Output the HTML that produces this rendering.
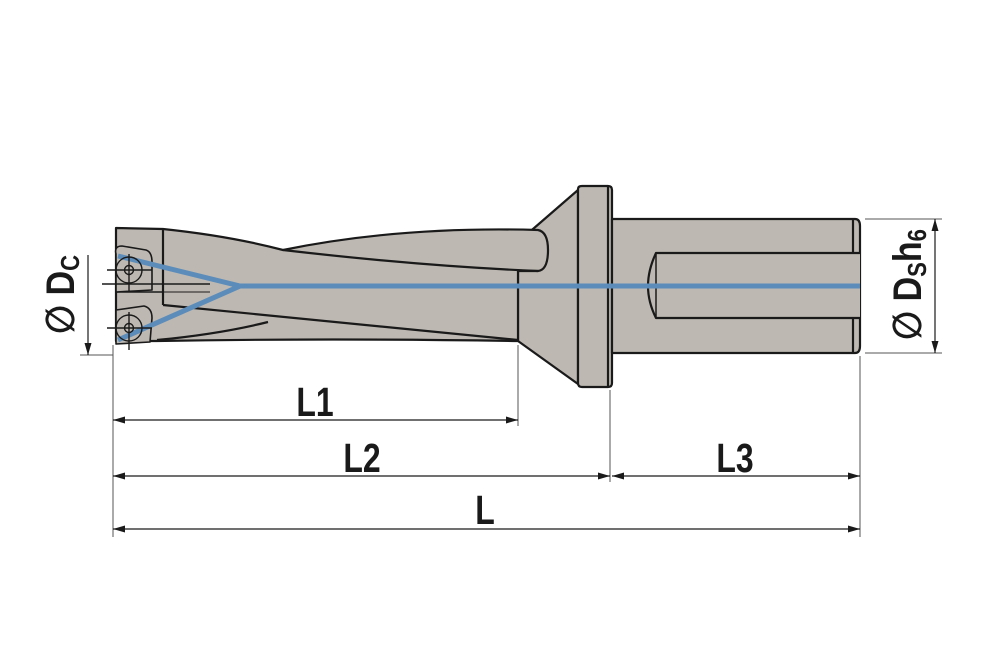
<!DOCTYPE html>
<html><head><meta charset="utf-8"><style>
html,body{margin:0;padding:0;background:#fff;}
svg{display:block}
text{font-family:"Liberation Sans",sans-serif;font-weight:bold;fill:#1a1a1a}
</style></head><body>
<svg width="1000" height="665" viewBox="0 0 1000 665" xmlns="http://www.w3.org/2000/svg">
<g stroke="#1a1a1a" stroke-width="2.2" fill="#bdb8b2" stroke-linejoin="round">
<path d="M518,242 L578,190 L578,384 L518,341 Z"/>
<path d="M578,189 Q578,186 582,186 L608,186 Q612,186 612,190 L612,383 Q612,387 608,387 L582,387 Q578,387 578,383 Z"/>
<line x1="608" y1="187" x2="608" y2="386"/>
<path d="M612,219 L855,219 Q860,219 860,226 L860,346 Q860,353 855,353 L612,353 Z"/>
<line x1="853" y1="220" x2="853" y2="252"/>
<line x1="853" y1="319" x2="853" y2="352"/>
<path d="M860,253 L656,253 Q648,270 648,286 Q648,302 656,318 L860,318" />
<path d="M656,253 L656,318" fill="none" stroke-width="1.5"/>
<path d="M116,228 L163,229 Q230,236 283,250 Q400,226 538,230 Q548,232 548,250 Q548,270 538,271 L518,271 L518,341 Q330,338 157,341 L116,341 Z"/>
<path d="M283,250 Q420,266 538,271" fill="none"/>
<path d="M163,305 L518,340" fill="none"/>
<path d="M157,340 Q220,334 268,322" fill="none"/>
<line x1="163" y1="229" x2="163" y2="305"/>
<line x1="116" y1="292" x2="163" y2="292" stroke-width="1.5"/>
<path d="M116,254 Q114,246 122,246 L146,250 Q152,252 152,262 L152,290 L116,292 Z" stroke-width="1.6"/>
<path d="M116,310 L144,306 Q152,308 152,318 L150,342 L116,344 Z" stroke-width="1.6"/>
</g>
<g stroke="#5b8cba" stroke-width="5" fill="none">
<line x1="240" y1="286" x2="860" y2="286"/>
<polyline points="118,256 240,286 118,340"/>
</g>
<g stroke="#1a1a1a" fill="none" stroke-width="1.4">
<circle cx="129" cy="270" r="13"/><circle cx="129" cy="270" r="4.5"/>
<circle cx="129" cy="328" r="13"/><circle cx="129" cy="328" r="4.5"/>
<line x1="107" y1="270" x2="152" y2="270"/><line x1="129" y1="254" x2="129" y2="292"/>
<line x1="107" y1="328" x2="152" y2="328"/><line x1="129" y1="312" x2="129" y2="350"/>
<line x1="102" y1="284" x2="210" y2="284"/>
<line x1="140" y1="292" x2="210" y2="292" stroke-width="1"/>
</g>
<g stroke="#555" stroke-width="1" fill="none">
<line x1="113" y1="345" x2="113" y2="537"/>
<line x1="518" y1="345" x2="518" y2="426"/>
<line x1="610" y1="390" x2="610" y2="482"/>
<line x1="860" y1="356" x2="860" y2="537"/>
<line x1="80" y1="355" x2="113" y2="355"/>
<line x1="865" y1="219" x2="942" y2="219"/>
<line x1="865" y1="353" x2="942" y2="353"/>
</g>
<g stroke="#1a1a1a" stroke-width="1.2">
<line x1="113" y1="420" x2="518" y2="420"/>
<line x1="113" y1="476" x2="610" y2="476"/>
<line x1="612" y1="476" x2="860" y2="476"/>
<line x1="113" y1="529" x2="860" y2="529"/>
<line x1="88" y1="255" x2="88" y2="355"/>
<line x1="935" y1="219" x2="935" y2="353"/>
</g>
<g fill="#1a1a1a">
<path d="M113,420 l12,-3.5 v7 z"/><path d="M518,420 l-12,-3.5 v7 z"/>
<path d="M113,476 l12,-3.5 v7 z"/><path d="M610,476 l-12,-3.5 v7 z"/>
<path d="M612,476 l12,-3.5 v7 z"/><path d="M860,476 l-12,-3.5 v7 z"/>
<path d="M113,529 l12,-3.5 v7 z"/><path d="M860,529 l-12,-3.5 v7 z"/>
<path d="M88,355 l-3.5,-12 h7 z"/>
<path d="M935,219 l-3.5,12 h7 z"/><path d="M935,353 l-3.5,-12 h7 z"/>
</g>
<text x="315" y="416" font-size="41" text-anchor="middle" transform="translate(315,0) scale(0.78,1) translate(-315,0)">L1</text>
<text x="362" y="472" font-size="41" text-anchor="middle" transform="translate(362,0) scale(0.78,1) translate(-362,0)">L2</text>
<text x="735" y="472" font-size="41" text-anchor="middle" transform="translate(735,0) scale(0.78,1) translate(-735,0)">L3</text>
<text x="485" y="524" font-size="41" text-anchor="middle" transform="translate(485,0) scale(0.78,1) translate(-485,0)">L</text>
<g transform="translate(74,334) rotate(-90) scale(0.85,1)">
<text x="0" y="0" font-size="40"><tspan font-family="DejaVu Sans" font-weight="bold">∅</tspan> D<tspan font-size="26" dy="5">C</tspan></text>
</g>
<g transform="translate(921,340) rotate(-90) scale(0.85,1)">
<text x="0" y="0" font-size="40"><tspan font-family="DejaVu Sans" font-weight="bold">∅</tspan> D<tspan font-size="26" dy="5">S</tspan><tspan dy="-5">h</tspan><tspan font-size="26" dy="5">6</tspan></text>
</g>
</svg>
</body></html>
